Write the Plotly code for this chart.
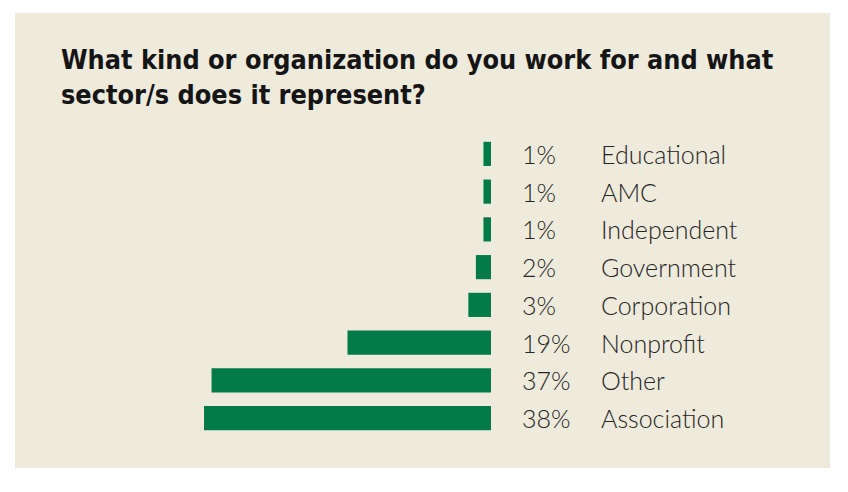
import plotly.graph_objects as go

categories = ["Educational", "AMC", "Independent", "Government", "Corporation", "Nonprofit", "Other", "Association"]
shares = [1, 1, 1, 2, 3, 19, 37, 38]
share_labels = ["1%", "1%", "1%", "2%", "3%", "19%", "37%", "38%"]

TITLE = "What kind or organization do you work for and what<br>sector/s does it represent?"

W, H = 848, 492
OFF = 8  # the page body has an 8px margin
# plot area in page pixels
PL, PR, PT, PB = 204, 491, 135, 437
GREEN = "#037B48"
BEIGE = "#EEEADC"
TEXT = "#262524"


def px_x(p):
	return (p - PL) / (PR - PL)


def px_y(p):
	return (PB - p) / (PB - PT)


fig = go.Figure()

fig.add_trace(go.Bar(
	orientation = "h",
	x = shares,
	y = categories,
	marker = dict(color = GREEN, line = dict(width = 0)),
	hoverinfo = "skip",
))

label_font = dict(family = "Lato", size = 25, weight = 300, color = TEXT)
annotations = []
for cat, lab in zip(categories, share_labels):
	annotations.append(dict(
		x = px_x(520), xref = "paper", xanchor = "left",
		y = cat, yref = "y", yanchor = "middle",
		text = lab, showarrow = False, font = label_font,
	))
	annotations.append(dict(
		x = px_x(599), xref = "paper", xanchor = "left",
		y = cat, yref = "y", yanchor = "middle",
		text = cat, showarrow = False, font = label_font,
	))

fig.update_layout(
	width = W, height = H,
	margin = dict(l = PL - OFF, r = W - PR + OFF, t = PT - OFF, b = H - PB + OFF, pad = 0),
	paper_bgcolor = "white",
	plot_bgcolor = "rgba(0,0,0,0)",
	showlegend = False,
	bargap = 0.36,
	title = dict(
		text = "<b>" + TITLE + "</b>",
		x = (61 - OFF) / W, xanchor = "left", xref = "container",
		y = 1 - (69 - OFF) / H, yanchor = "top", yref = "container",
		font = dict(family = "DejaVu Sans Condensed", size = 26.8, weight = 800, color = "#151515"),
	),
	xaxis = dict(range = [38, 0], visible = False, fixedrange = True),
	yaxis = dict(
		type = "category", categoryorder = "array", categoryarray = categories,
		autorange = "reversed", visible = False, fixedrange = True,
	),
	annotations = annotations,
	shapes = [dict(
		type = "rect", xref = "paper", yref = "paper", layer = "below",
		x0 = px_x(15), x1 = px_x(830), y0 = px_y(468), y1 = px_y(13),
		fillcolor = BEIGE, line = dict(width = 0),
	)],
)

fig.write_html("out.html")
